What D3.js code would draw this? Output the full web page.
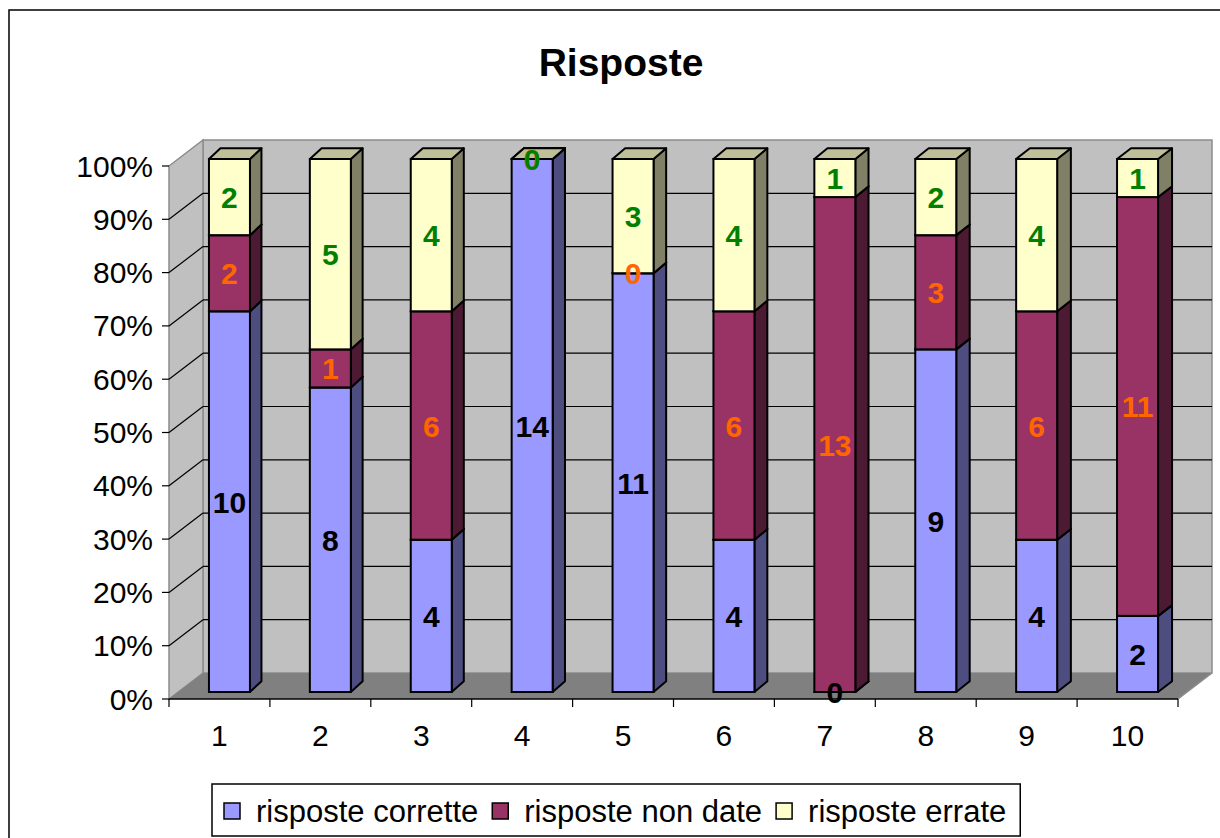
<!DOCTYPE html>
<html>
<head>
<meta charset="utf-8">
<script src="https://cdn.jsdelivr.net/npm/d3@7"></script>
<style>
  body { margin: 0; background: #fff; }
  svg { display: block; font-family: "Liberation Sans", Arial, sans-serif; }
</style>
</head>
<body>
<svg id="chart" width="1220" height="838"></svg>
<script>
// data (14 answers per question)
var categories = ["1", "2", "3", "4", "5", "6", "7", "8", "9", "10"];
var corrette = [10, 8, 4, 14, 11, 4, 0, 9, 4, 2];
var nonDate = [2, 1, 6, 0, 0, 6, 13, 3, 6, 11];
var errate = [2, 5, 4, 0, 3, 4, 1, 2, 4, 1];
var seriesNames = ["risposte corrette", "risposte non date", "risposte errate"];
var yTicks = [0, 0.1, 0.2, 0.3, 0.4, 0.5, 0.6, 0.7, 0.8, 0.9, 1];

var svg = d3.select("#chart");

// colours: front, side, top, label
var pal = [
  {front: "#9999FF", side: "#4D4D80", top: "#7373BF", label: "#000000"},
  {front: "#993366", side: "#4D1A33", top: "#73264D", label: "#FF6600"},
  {front: "#FFFFCC", side: "#808066", top: "#BFBF99", label: "#008000"}
];

// depth offset of the walls
var depthX = 34, depthY = 26;

var x = d3.scaleBand().domain(categories).range([169, 1178]).padding(0);
var yFront = d3.scaleLinear().domain([0, 1]).range([699, 166]);
var yBack = d3.scaleLinear().domain([0, 1]).range([673, 140]);
var yBar = d3.scaleLinear().domain([0, 1]).range([692, 159]);
// bars sit a little inside the box, side face gets wider to the right
var barShift = 10, barW = 41;
var sideDx = d3.scaleLinear().domain([0, categories.length - 1]).range([11.5, 14]);
var topDy = 10.7;

var rows = categories.map(function(c, i) {
  return {cat: c, a: corrette[i], b: nonDate[i], c: errate[i]};
});
var stack = d3.stack().keys(["a", "b", "c"]).offset(d3.stackOffsetExpand);
var layers = stack(rows);

// outer frame
svg.append("rect")
  .attr("x", 9).attr("y", 10).attr("width", 1230).attr("height", 850)
  .attr("fill", "#fff").attr("stroke", "#000").attr("stroke-width", 1.5);

// title
svg.append("text")
  .attr("x", 621).attr("y", 76)
  .attr("text-anchor", "middle")
  .attr("font-size", "39px").attr("font-weight", "bold")
  .text("Risposte");

var x0 = x.range()[0], x1 = x.range()[1];

// back wall
svg.append("rect")
  .attr("x", x0 + depthX).attr("y", yBack(1))
  .attr("width", x1 - x0).attr("height", yBack(0) - yBack(1))
  .attr("fill", "#C0C0C0").attr("stroke", "#8C8C8C").attr("stroke-width", 1.5);

// left wall
svg.append("polygon")
  .attr("points", [[x0, yFront(1)], [x0 + depthX, yBack(1)], [x0 + depthX, yBack(0)], [x0, yFront(0)]].join(" "))
  .attr("fill", "#C0C0C0").attr("stroke", "#8C8C8C").attr("stroke-width", 1.5);

// floor
svg.append("polygon")
  .attr("points", [[x0, yFront(0)], [x1, yFront(0)], [x1 + depthX, yBack(0)], [x0 + depthX, yBack(0)]].join(" "))
  .attr("fill", "#808080");
svg.append("line")
  .attr("x1", x1).attr("y1", yFront(0)).attr("x2", x1 + depthX).attr("y2", yBack(0))
  .attr("stroke", "#8C8C8C").attr("stroke-width", 1.5);

// gridlines
var inner = yTicks.filter(function(t) { return t > 0 && t < 1; });
svg.append("g").selectAll("line.back").data(inner).enter().append("line")
  .attr("x1", x0 + depthX).attr("x2", x1 + depthX)
  .attr("y1", function(d) { return yBack(d); }).attr("y2", function(d) { return yBack(d); })
  .attr("stroke", "#000").attr("stroke-width", 1.2);
svg.append("g").selectAll("line.side").data(inner).enter().append("line")
  .attr("x1", x0).attr("x2", x0 + depthX)
  .attr("y1", function(d) { return yFront(d); }).attr("y2", function(d) { return yBack(d); })
  .attr("stroke", "#000").attr("stroke-width", 1.2);

// bars
var barsG = svg.append("g");
rows.forEach(function(r, i) {
  var cx = x(r.cat) + x.bandwidth() / 2 + barShift;
  var bx0 = cx - barW / 2, bx1 = cx + barW / 2;
  var dx = sideDx(i);
  layers.forEach(function(layer, k) {
    var seg = layer[i];
    var yt = yBar(seg[1]), yb = yBar(seg[0]);
    var p = pal[k];
    // side
    barsG.append("polygon")
      .attr("points", [[bx1, yb], [bx1 + dx, yb - topDy], [bx1 + dx, yt - topDy], [bx1, yt]].join(" "))
      .attr("fill", p.side).attr("stroke", "#000").attr("stroke-width", 2).attr("stroke-linejoin", "round");
    // front
    barsG.append("rect")
      .attr("x", bx0).attr("y", yt).attr("width", barW).attr("height", yb - yt)
      .attr("fill", p.front).attr("stroke", "#000").attr("stroke-width", 2);
    // top
    barsG.append("polygon")
      .attr("points", [[bx0, yt], [bx1, yt], [bx1 + dx, yt - topDy], [bx0 + dx, yt - topDy]].join(" "))
      .attr("fill", p.top).attr("stroke", "#000").attr("stroke-width", 2).attr("stroke-linejoin", "round");
  });
});

// data labels
var labelsG = svg.append("g")
  .attr("font-size", "30px").attr("font-weight", "bold").attr("text-anchor", "middle");
var raw = [corrette, nonDate, errate];
layers.forEach(function(layer, k) {
  layer.forEach(function(seg, i) {
    var cx = x(categories[i]) + x.bandwidth() / 2 + barShift;
    var cy = yBar((seg[0] + seg[1]) / 2);
    labelsG.append("text")
      .attr("x", cx).attr("y", cy + 11)
      .attr("fill", pal[k].label)
      .text(raw[k][i]);
  });
});

// y axis ticks and labels
var yAxisG = svg.append("g");
yAxisG.selectAll("line").data(yTicks).enter().append("line")
  .attr("x1", x0 - 7).attr("x2", x0)
  .attr("y1", function(d) { return yFront(d); }).attr("y2", function(d) { return yFront(d); })
  .attr("stroke", "#000").attr("stroke-width", 1.2);
yAxisG.selectAll("text").data(yTicks).enter().append("text")
  .attr("x", 153).attr("y", function(d) { return yFront(d) + 10.5; })
  .attr("text-anchor", "end").attr("font-size", "30px")
  .text(d3.format(".0%"));

// x axis
var xAxisG = svg.append("g");
xAxisG.append("line")
  .attr("x1", x0).attr("x2", x1).attr("y1", yFront(0)).attr("y2", yFront(0))
  .attr("stroke", "#000").attr("stroke-width", 1.5);
var bounds = categories.map(function(c) { return x(c); }).concat([x1]);
xAxisG.selectAll("line.tick").data(bounds).enter().append("line")
  .attr("x1", function(d) { return d; }).attr("x2", function(d) { return d; })
  .attr("y1", yFront(0)).attr("y2", yFront(0) + 8)
  .attr("stroke", "#000").attr("stroke-width", 1.2);
xAxisG.selectAll("text").data(categories).enter().append("text")
  .attr("x", function(d) { return x(d) + x.bandwidth() / 2; })
  .attr("y", 746)
  .attr("text-anchor", "middle").attr("font-size", "30px")
  .text(function(d) { return d; });

// legend
var legend = svg.append("g");
var legBox = legend.append("rect")
  .attr("x", 212).attr("y", 784).attr("height", 52)
  .attr("fill", "#fff").attr("stroke", "#000").attr("stroke-width", 1.5);
var lx = 224;
seriesNames.forEach(function(name, k) {
  legend.append("rect")
    .attr("x", lx).attr("y", 803).attr("width", 16).attr("height", 16)
    .attr("fill", pal[k].front).attr("stroke", "#000").attr("stroke-width", 1.5);
  var t = legend.append("text")
    .attr("x", lx + 32).attr("y", 822)
    .attr("font-size", "31px")
    .text(name);
  lx = lx + 32 + t.node().getComputedTextLength() + 14;
});
legBox.attr("width", lx - 212);
</script>
</body>
</html>
